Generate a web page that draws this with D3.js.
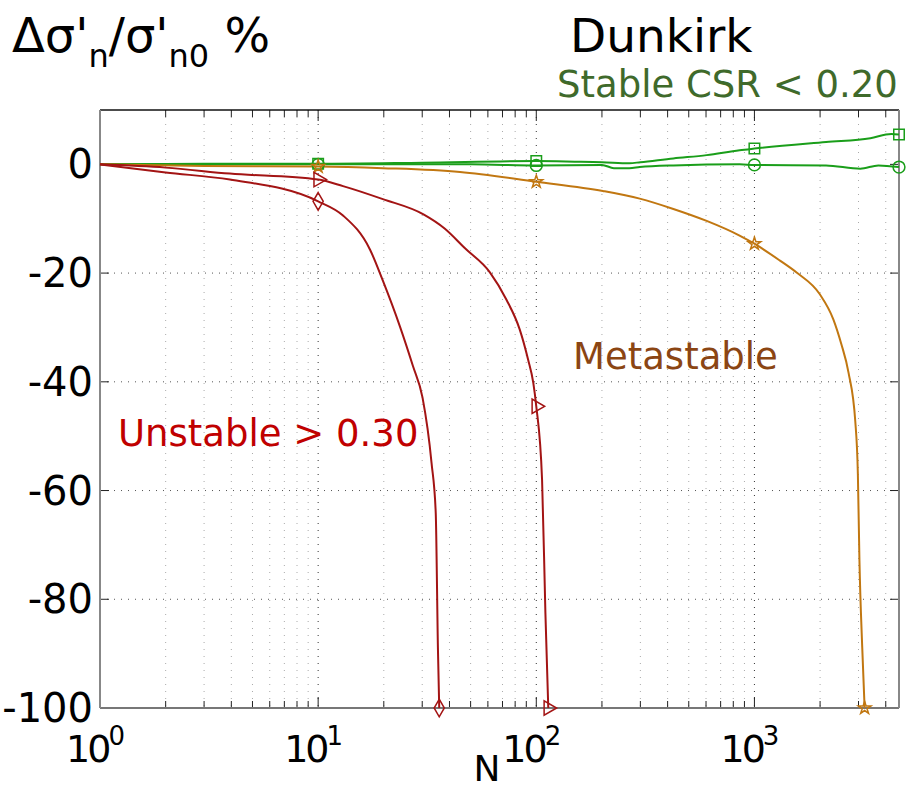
<!DOCTYPE html>
<html>
<head>
<meta charset="utf-8">
<script src="https://d3js.org/d3.v7.min.js"></script>
<style>
    body { margin: 0; background: #fff; }
    svg { font-family: "DejaVu Sans", sans-serif; }
</style>
</head>
<body>
<div id="chart"></div>
<script>
// values: [N, delta sigma'n / sigma'n0 in %]
var stableSquare = [[1,0],[3,0.1],[10,0.1],[30,0.3],[100,0.6],[150,0.5],[200,0.4],[267,0.2],[300,0.4],[425,1.1],[604,1.7],[855,2.6],[1000,2.9],[2130,4.1],[3400,4.8],[4240,5.6],[4600,5.5]];
var stableCircle = [[1,0],[10,0],[50,0],[100,-0.2],[200,-0.1],[227,-0.7],[267,-0.7],[298,-0.5],[425,-0.2],[855,0],[1000,-0.1],[2130,-0.2],[3060,-0.8],[3700,-0.2],[4600,-0.5]];
var metastable = [[1,0],[3,-0.3],[10,-0.4],[19.8,-0.7],[44.7,-1.4],[100,-3.2],[202,-4.9],[298,-6.3],[425,-8.2],[604,-10.4],[855,-13.1],[1000,-14.6],[1309,-17.7],[1561,-19.9],[1995,-23.9],[2300,-28.5],[2500,-33],[2700,-38.3],[2900,-47.3],[2980,-57],[3030,-72.9],[3120,-88.8],[3200,-100]];
var unstableTriangle = [[1,0],[2,-0.6],[3.94,-1.7],[10,-2.8],[13,-4.0],[19.8,-6.4],[30.4,-9.2],[38,-11.8],[47,-15.4],[61.4,-19.9],[73,-24.9],[84,-30.4],[91.7,-35.9],[96.9,-40.2],[100,-44.5],[106.3,-58],[110.1,-82.5],[113.5,-100]];
var unstableDiamond = [[1,0],[2,-1.5],[3.94,-2.8],[10,-6.8],[13,-9.4],[17.3,-15.7],[19.8,-21.4],[23.7,-29.8],[27.2,-37.1],[30.1,-42.9],[33.1,-54.9],[34.6,-64.1],[35.4,-88.8],[35.9,-100]];

// which N values carry a marker
var squareMarks = [10,100,1000,4600];
var circleMarks = [10,100,1000,4600];
var starMarks = [10,100,1000,3200];
var triangleMarks = [10,100,113.5];
var diamondMarks = [10,35.9];

var yTicks = [0,-20,-40,-60,-80,-100];
var xDecades = [1,10,100,1000];

var width = 910, height = 792;
var plot = {left: 100, right: 899, top: 110, bottom: 708};

var svg = d3.select("#chart").append("svg")
    .attr("width", width)
    .attr("height", height);

var x = d3.scaleLog().domain([1,4600]).range([plot.left, plot.right]);
var y = d3.scaleLinear().domain([-100,10]).range([plot.bottom, plot.top]);

// minor log ticks 2..9 per decade
var minorTicks = [];
xDecades.forEach(function(d){
    for(var k=2;k<=9;k++){
        if(d*k <= 4600) minorTicks.push(d*k);
    }
});
var allTicks = xDecades.concat(minorTicks);

// grid
var grid = svg.append("g");
grid.selectAll("line.minor").data(minorTicks).enter().append("line")
    .attr("x1", function(d){ return x(d); })
    .attr("x2", function(d){ return x(d); })
    .attr("y1", plot.top).attr("y2", plot.bottom)
    .attr("stroke", "#aaa").attr("stroke-width", 1)
    .attr("stroke-dasharray", "1,6");
grid.selectAll("line.major").data(xDecades.slice(1)).enter().append("line")
    .attr("x1", function(d){ return x(d); })
    .attr("x2", function(d){ return x(d); })
    .attr("y1", plot.top).attr("y2", plot.bottom)
    .attr("stroke", "#333").attr("stroke-width", 1)
    .attr("stroke-dasharray", "1,6");
grid.selectAll("line.h").data(yTicks.slice(1,5)).enter().append("line")
    .attr("x1", plot.left).attr("x2", plot.right)
    .attr("y1", function(d){ return y(d); })
    .attr("y2", function(d){ return y(d); })
    .attr("stroke", "#555").attr("stroke-width", 1)
    .attr("stroke-dasharray", "1,6");

// box + inward ticks, matlab style
var frame = svg.append("g");
function tickLen(d){ return xDecades.indexOf(d) >= 0 ? 11 : 7; }
frame.selectAll("line.bt").data(allTicks).enter().append("line")
    .attr("x1", function(d){ return x(d); }).attr("x2", function(d){ return x(d); })
    .attr("y1", plot.bottom).attr("y2", function(d){ return plot.bottom - tickLen(d); })
    .attr("stroke", "#222").attr("stroke-width", 1);
frame.selectAll("line.tt").data(allTicks).enter().append("line")
    .attr("x1", function(d){ return x(d); }).attr("x2", function(d){ return x(d); })
    .attr("y1", plot.top).attr("y2", function(d){ return plot.top + tickLen(d); })
    .attr("stroke", "#222").attr("stroke-width", 1);
frame.selectAll("line.lt").data(yTicks).enter().append("line")
    .attr("x1", plot.left).attr("x2", plot.left + 9)
    .attr("y1", function(d){ return y(d); }).attr("y2", function(d){ return y(d); })
    .attr("stroke", "#222").attr("stroke-width", 1);
frame.selectAll("line.rt").data(yTicks).enter().append("line")
    .attr("x1", plot.right).attr("x2", plot.right - 9)
    .attr("y1", function(d){ return y(d); }).attr("y2", function(d){ return y(d); })
    .attr("stroke", "#222").attr("stroke-width", 1);

frame.append("line").attr("x1", plot.left).attr("x2", plot.right)
    .attr("y1", plot.top).attr("y2", plot.top).attr("stroke", "#111").attr("stroke-width", 1.5);
frame.append("line").attr("x1", plot.left).attr("x2", plot.right)
    .attr("y1", plot.bottom).attr("y2", plot.bottom).attr("stroke", "#777").attr("stroke-width", 2);
frame.append("line").attr("x1", plot.left).attr("x2", plot.left)
    .attr("y1", plot.top).attr("y2", plot.bottom).attr("stroke", "#888").attr("stroke-width", 2);
frame.append("line").attr("x1", plot.right).attr("x2", plot.right)
    .attr("y1", plot.top).attr("y2", plot.bottom).attr("stroke", "#888").attr("stroke-width", 2);

// tick labels
svg.append("g").selectAll("text").data(yTicks).enter().append("text")
    .attr("x", plot.left - 7)
    .attr("y", function(d){ return y(d) + 14; })
    .attr("text-anchor", "end")
    .attr("font-size", 40)
    .text(function(d){ return d; });

var xl = svg.append("g").selectAll("text").data(xDecades).enter().append("text")
    .attr("x", function(d){ return x(d) - 6; })
    .attr("y", 762)
    .attr("text-anchor", "middle")
    .attr("font-size", 38)
    .attr("letter-spacing", -3);
xl.append("tspan").text("10");
xl.append("tspan").attr("dy", -17).attr("font-size", 26)
    .text(function(d){ return Math.round(Math.log10(d)); });

svg.append("text").attr("x", 487).attr("y", 781)
    .attr("text-anchor", "middle").attr("font-size", 36).text("N");

// y title
var yt = svg.append("text").attr("x", 12).attr("y", 52).attr("font-size", 48);
yt.append("tspan").text("\u0394\u03c3'");
yt.append("tspan").attr("dy", 15).attr("font-size", 32).text("n");
yt.append("tspan").attr("dy", -15).text("/\u03c3'");
yt.append("tspan").attr("dy", 15).attr("font-size", 32).text("n0");
yt.append("tspan").attr("dy", -15).text(" %");

svg.append("text").attr("x", 570).attr("y", 52).attr("font-size", 47).text("Dunkirk");
svg.append("text").attr("x", 557).attr("y", 97).attr("font-size", 37)
    .attr("fill", "#3f6a2b").text("Stable CSR < 0.20");
svg.append("text").attr("x", 573).attr("y", 369).attr("font-size", 37)
    .attr("fill", "#8b4513").text("Metastable");
svg.append("text").attr("x", 118).attr("y", 446).attr("font-size", 37)
    .attr("fill", "#c00000").text("Unstable > 0.30");

// curves
var line = d3.line()
    .x(function(d){ return x(d[0]); })
    .y(function(d){ return y(d[1]); })
    .curve(d3.curveMonotoneX);

var green = "#1a9e1a", orange = "#c17711", red = "#a31414";
var series = [
    {data: stableSquare, color: green, marks: squareMarks, sym: d3.symbolSquare, size: 110},
    {data: stableCircle, color: green, marks: circleMarks, sym: d3.symbolCircle, size: 110},
    {data: metastable, color: orange, marks: starMarks, sym: d3.symbolStar, size: 50},
    {data: unstableTriangle, color: red, marks: triangleMarks, sym: d3.symbolTriangle, size: 90, rot: 90},
    {data: unstableDiamond, color: red, marks: diamondMarks, sym: d3.symbolDiamond, size: 90}
];

var lines = svg.append("g");
series.forEach(function(s){
    lines.append("path")
        .attr("d", line(s.data))
        .attr("fill", "none")
        .attr("stroke", s.color)
        .attr("stroke-width", 2);
});
series.forEach(function(s){
    var pts = s.data.filter(function(d){ return s.marks.indexOf(d[0]) >= 0; });
    lines.selectAll(null).data(pts).enter().append("path")
        .attr("d", d3.symbol().type(s.sym).size(s.size))
        .attr("transform", function(d){
            return "translate(" + x(d[0]) + "," + y(d[1]) + ")" + (s.rot ? " rotate(" + s.rot + ")" : "");
        })
        .attr("fill", "none")
        .attr("stroke", s.color)
        .attr("stroke-width", 1.5);
});
</script>
</body>
</html>
